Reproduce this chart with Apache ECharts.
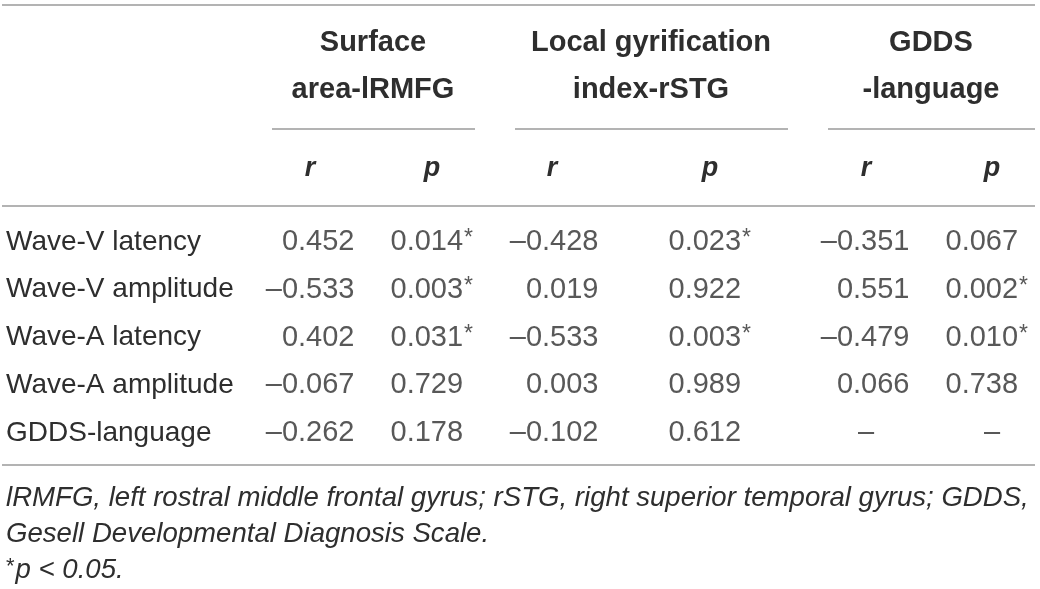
<!DOCTYPE html>
<html lang="en">
<head>
<meta charset="UTF-8">
<title>Correlation table</title>
<script src="https://cdn.jsdelivr.net/npm/echarts@6/dist/echarts.min.js"></script>
<style>
  html, body { margin: 0; padding: 0; background: #fff; }
  #main { width: 1040px; height: 589px; }
</style>
</head>
<body>
<div id="main"></div>
<script>
// row labels and column groups
var rowNames = ['Wave-V latency', 'Wave-V amplitude', 'Wave-A latency', 'Wave-A amplitude', 'GDDS-language'];
var groupTitles = [['Surface', 'area-lRMFG'], ['Local gyrification', 'index-rSTG'], ['GDDS', '-language']];
var subHeads = ['r', 'p', 'r', 'p', 'r', 'p'];

// values (null = not applicable)
var surfaceR = [0.452, -0.533, 0.402, -0.067, -0.262];
var surfaceP = [0.014, 0.003, 0.031, 0.729, 0.178];
var gyriR = [-0.428, 0.019, -0.533, 0.003, -0.102];
var gyriP = [0.023, 0.922, 0.003, 0.989, 0.612];
var gddsR = [-0.351, 0.551, -0.479, 0.066, null];
var gddsP = [0.067, 0.002, 0.010, 0.738, null];

var footnotes = [
  'lRMFG, left rostral middle frontal gyrus; rSTG, right superior temporal gyrus; GDDS,',
  'Gesell Developmental Diagnosis Scale.',
  '{s|*}p < 0.05.'
];

// layout
var FONT = '"Liberation Sans", Arial, sans-serif';
var TEXT = '#2e2e2e';
var RULE = '#9a9a9a';
// anchor = right edge for r, left edge for p; head = centre of the r/p header
var colLayout = [
  { anchor: 355, head: 310 },
  { anchor: 390, head: 432 },
  { anchor: 599, head: 552 },
  { anchor: 668, head: 710 },
  { anchor: 910, head: 866 },
  { anchor: 945, head: 992 }
];
var groupLayout = [
  { centre: 373, from: 272, to: 475 },
  { centre: 651, from: 515, to: 788 },
  { centre: 931, from: 828, to: 1035 }
];
var columnValues = [surfaceR, surfaceP, gyriR, gyriP, gddsR, gddsP];

// small raised asterisk
var starStyle = { fontSize: 23, verticalAlign: 'top', fontFamily: FONT, color: TEXT, padding: [0, 0, 0, 1] };

function fmtR(v) {
  return (v < 0 ? '\u2013' : '') + Math.abs(v).toFixed(3);
}
function fmtP(v) {
  return v.toFixed(3) + (v < 0.05 ? '{s|*}' : '');
}

window.onload = function () {
  var chart = echarts.init(document.getElementById('main'));

  var graphics = [];
  // rules
  [5, 206, 465].forEach(function (y) {
    graphics.push({ type: 'line', shape: { x1: 2, y1: y, x2: 1035, y2: y }, style: { stroke: RULE, lineWidth: 1.5 } });
  });
  groupLayout.forEach(function (g, gi) {
    graphics.push({ type: 'line', shape: { x1: g.from, y1: 129, x2: g.to, y2: 129 }, style: { stroke: RULE, lineWidth: 1.5 } });
    groupTitles[gi].forEach(function (t, li) {
      graphics.push({
        type: 'text', x: g.centre, y: 43 + li * 47,
        style: { text: t, fill: TEXT, fontFamily: FONT, fontSize: 29, fontWeight: 'bold', align: 'center', verticalAlign: 'middle' }
      });
    });
  });
  colLayout.forEach(function (c, i) {
    graphics.push({
      type: 'text', x: c.head, y: 169,
      style: { text: subHeads[i], fill: TEXT, fontFamily: FONT, fontSize: 27, fontWeight: 'bold', fontStyle: 'italic', align: 'center', verticalAlign: 'middle' }
    });
  });
  footnotes.forEach(function (t, i) {
    graphics.push({
      type: 'text', x: 6, y: 498 + i * 36,
      style: {
        text: t, fill: TEXT, fontFamily: FONT, fontSize: 27.6, fontStyle: 'italic', align: 'left', verticalAlign: 'middle',
        rich: { s: { fontSize: 22, verticalAlign: 'top', fontFamily: FONT, fill: TEXT, padding: [0, 1, 0, 0] } }
      }
    });
  });

  var series = columnValues.map(function (vals, ci) {
    var isR = ci % 2 === 0;
    var lay = colLayout[ci];
    return {
      type: 'scatter',
      symbolSize: 1,
      silent: true,
      itemStyle: { color: 'rgba(0,0,0,0)' },
      data: vals.map(function (v, ri) {
        if (v === null) {
          return { value: [lay.head, rowNames[ri]], label: { position: 'inside', align: 'center' } };
        }
        return { value: [lay.anchor, rowNames[ri], v] };
      }),
      label: {
        show: true,
        position: isR ? 'left' : 'right',
        distance: 0,
        color: TEXT,
        fontFamily: FONT,
        fontSize: 29,
        rich: { s: starStyle },
        formatter: function (p) {
          var v = p.value[2];
          if (v === undefined || v === null) return '\u2013';
          return isR ? fmtR(v) : fmtP(v);
        }
      }
    };
  });

  var option = {
    animation: false,
    backgroundColor: '#fff',
    grid: { left: 0, right: 0, top: 218, bottom: 132 },
    xAxis: { type: 'value', min: 0, max: 1040, show: false },
    yAxis: {
      type: 'category',
      data: rowNames,
      inverse: true,
      axisLine: { show: false },
      axisTick: { show: false },
      splitLine: { show: false },
      axisLabel: { inside: true, margin: 6, align: 'left', color: TEXT, fontFamily: FONT, fontSize: 28 }
    },
    series: series,
    graphic: graphics
  };

  option && chart.setOption(option);
};
</script>
</body>
</html>
